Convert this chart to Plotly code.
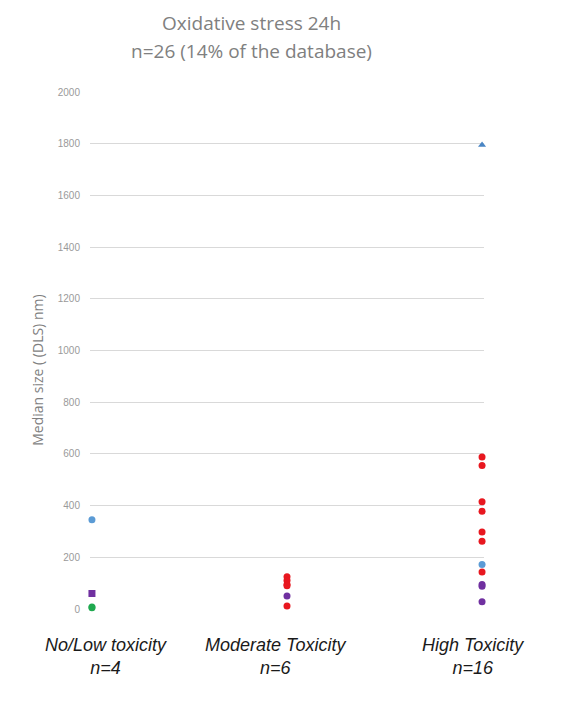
import plotly.graph_objects as go

categories = ["No/Low toxicity", "Moderate Toxicity", "High Toxicity"]
counts = [4, 6, 16]
tick_vals = [0, 200, 400, 600, 800, 1000, 1200, 1400, 1600, 1800, 2000]

title_lines = ["Oxidative stress 24h", "n=26 (14% of the database)"]
y_title = "Median size ( (DLS) nm)"

# series: (category, value)
red_cat = ["Moderate Toxicity"] * 5 + ["High Toxicity"] * 7
red_val = [125, 110, 95, 90, 12, 588, 555, 415, 378, 298, 262, 143]

purple_cat = ["No/Low toxicity", "Moderate Toxicity", "High Toxicity", "High Toxicity", "High Toxicity"]
purple_val = [60, 50, 95, 88, 28]

blue_cat = ["No/Low toxicity", "High Toxicity"]
blue_val = [345, 172]

green_cat = ["No/Low toxicity", "No/Low toxicity"]
green_val = [8, 5]

tri_cat = ["High Toxicity"]
tri_val = [1795]

fig = go.Figure()

def add(xs, ys, color, symbol="circle", size=7):
    fig.add_trace(go.Scatter(x=xs, y=ys, mode="markers", cliponaxis=False,
                             marker=dict(color=color, size=size, symbol=symbol, line=dict(width=0)),
                             showlegend=False))

add(blue_cat, blue_val, "#5b9bd5")
add(green_cat, green_val, "#1fa94f")
add(purple_cat[:1], purple_val[:1], "#7030a0", symbol="square", size=7)
add(purple_cat[1:], purple_val[1:], "#7030a0")
add(red_cat, red_val, "#e8171f")
add(tri_cat, tri_val, "#4a86c5", symbol="triangle-up", size=7)

# category labels under the plot
label_x = [0.041, 0.470, 0.972]
for cx, cat, n in zip(label_x, categories, counts):
    fig.add_annotation(x=cx, y=-0.092, xref="paper", yref="paper", showarrow=False,
                       text=f"<i>{cat}<br>n={n}</i>", align="center", yanchor="middle",
                       xanchor="center",
                       font=dict(family="Liberation Sans, Arial", size=18, color="#1a1a1a"))

# title (two lines)
for ty, line in zip([1.134, 1.079], title_lines):
    fig.add_annotation(x=0.409, y=ty, xref="paper", yref="paper", showarrow=False,
                       text=line, xanchor="center", yanchor="middle",
                       font=dict(family="Open Sans, Arial", size=19, color="#808080"))

# y-axis title
fig.add_annotation(x=-0.133, y=0.462, xref="paper", yref="paper", showarrow=False,
                   text=y_title, textangle=-90, xanchor="center", yanchor="middle",
                   font=dict(family="Open Sans, Arial", size=14, color="#7f7f7f"))

fig.update_layout(
    width=553, height=694,
    paper_bgcolor="white", plot_bgcolor="white",
    margin=dict(l=82, r=77, t=84, b=93),
    xaxis=dict(type="category", categoryorder="array", categoryarray=categories,
               range=[-0.01, 2.01], showticklabels=False, showgrid=False,
               zeroline=False, showline=False, ticks=""),
    yaxis=dict(range=[0, 2000], tickvals=tick_vals, showgrid=True, gridcolor="#d9d9d9",
               gridwidth=1, zeroline=False, showline=False, ticks="outside",
               ticklen=7, tickcolor="rgba(0,0,0,0)",
               tickfont=dict(family="Liberation Sans, Arial", size=10, color="#9a9a9a")),
)

fig.write_html("out.html")
